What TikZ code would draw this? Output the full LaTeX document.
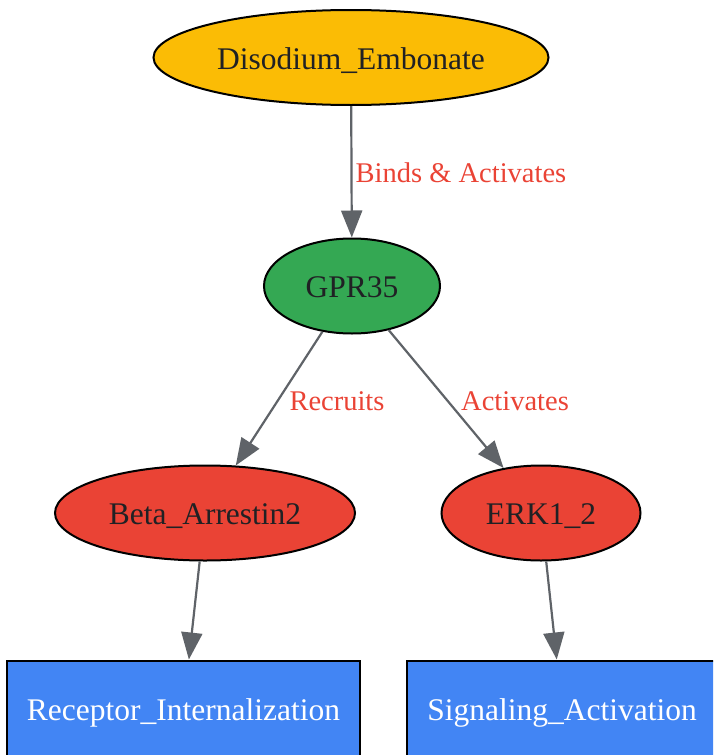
\documentclass[tikz,border=0pt]{standalone}
\usepackage{fontspec}
\setmainfont{Liberation Serif}
\usetikzlibrary{shapes.geometric,arrows.meta}

\definecolor{gyellow}{HTML}{FBBC05}
\definecolor{ggreen}{HTML}{34A853}
\definecolor{gred}{HTML}{EA4335}
\definecolor{gblue}{HTML}{4285F4}
\definecolor{ggray}{HTML}{5F6368}
\definecolor{gtext}{HTML}{202124}

\begin{document}
\begin{tikzpicture}[x=1pt,y=1pt,
    mol/.style={ellipse,draw=black,line width=2pt,inner sep=0pt,
        minimum height=95pt,text height=23pt,text depth=0pt,
        text=gtext,font=\fontsize{31.5}{36}\selectfont},
    outcome/.style={rectangle,draw=black,line width=2pt,inner sep=0pt,
        minimum height=96pt,text height=23pt,text depth=0pt,
        fill=gblue,text=white,font=\fontsize{31.5}{36}\selectfont},
    link/.style={draw=ggray,line width=2.2pt,-{Triangle[length=27pt,width=21pt]}},
    lab/.style={text=gred,font=\fontsize{28.5}{34}\selectfont}]

    \useasboundingbox (0,0) rectangle (713,-755);
    \clip (0,0) rectangle (713,-755);

    % nodes
    \node (dis) at (351,-57.5) [mol,fill=gyellow,minimum width=395pt] {Disodium\_Embonate};
    \node (gpr) at (352,-286) [mol,fill=ggreen,minimum width=176pt] {GPR35};
    \node (barr) at (205,-513) [mol,fill=gred,minimum width=300pt] {Beta\_Arrestin2};
    \node (erk) at (541,-513) [mol,fill=gred,minimum width=199pt] {ERK1\_2};
    \node (intern) at (183.5,-708.5) [outcome,minimum width=353pt] {Receptor\_Internalization};
    \node (signal) at (562,-708.5) [outcome,minimum width=310pt] {Signaling\_Activation};

    % edges
    \draw [link] (dis) -- (gpr);
    \draw [link] (gpr) -- (barr);
    \draw [link] (gpr) -- (erk);
    \draw [link] (barr) -- (intern);
    \draw [link] (erk) -- (signal);

    % edge labels
    \node (l1) at (461,-173) [lab] {Binds \& Activates};
    \node (l2) at (337,-401) [lab] {Recruits};
    \node (l3) at (515,-401) [lab] {Activates};

\end{tikzpicture}
\end{document}
